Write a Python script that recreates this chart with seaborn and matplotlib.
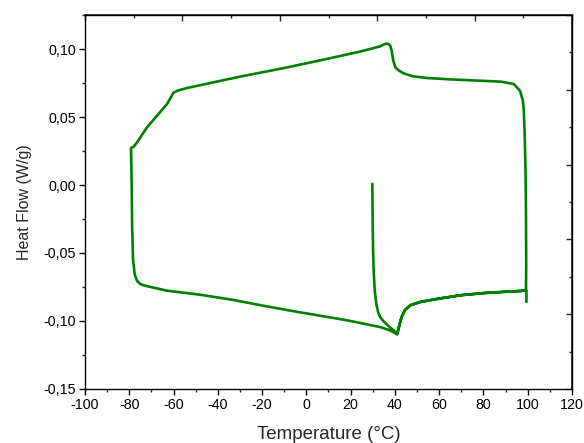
import numpy as np
import pandas as pd
import matplotlib
matplotlib.use("Agg")
import matplotlib.pyplot as plt
from matplotlib.ticker import MultipleLocator, FuncFormatter
import seaborn as sns

# DSC thermogram: heat -> isotherm at 100 °C -> cool -> isotherm at -80 °C -> heat
temperature = [
    29.8, 29.9, 30.1, 30.4, 30.9, 31.6, 32.5, 33.4, 35.0, 37.0, 39.5, 41.0,
    41.8, 42.5, 43.2, 44.5, 46.9, 51.5, 60.0, 70.0, 80.0, 90.0, 99.2,
    99.3, 99.2, 99.0, 98.6, 98.2, 97.8, 96.5, 93.7, 88.0, 78.6, 65.0, 54.5,
    48.0, 44.0, 41.5, 40.2, 39.2, 38.5, 37.9, 37.0, 36.0, 34.5, 33.4, 24.4,
    10.0, 0.0, -11.7, -30.0, -54.0, -58.0, -60.0, -62.9, -72.0, -76.5,
    -78.0, -78.8, -79.2, -78.9, -78.7, -78.3, -77.5, -76.5, -75.0, -73.5,
    -63.0, -47.9, -32.8, -17.8, -2.7, 0.3, 18.4, 33.4, 38.0, 41.0,
    41.8, 42.5, 43.2, 44.5, 46.9, 51.5, 60.0, 70.0, 80.0, 90.0, 99.2,
    99.4, 99.4,
]
heat_flow = [
    0.001, -0.020, -0.045, -0.063, -0.078, -0.0875, -0.094, -0.0973, -0.1005,
    -0.1035, -0.1070, -0.1096,
    -0.105, -0.100, -0.0965, -0.092, -0.0885, -0.0860, -0.0835, -0.0810,
    -0.0795, -0.0785, -0.0777,
    -0.060, -0.020, 0.010, 0.0375, 0.055, 0.062, 0.0693, 0.0743, 0.0760,
    0.0767, 0.0777, 0.0787,
    0.0800, 0.0821, 0.0845, 0.0865, 0.092, 0.099, 0.1024, 0.1038, 0.1040,
    0.1030, 0.1020, 0.0982,
    0.0930, 0.0895, 0.0855, 0.0797, 0.0713, 0.0695, 0.0680, 0.0596, 0.0424,
    0.0313,
    0.0282, 0.0277, 0.0270, 0.0000, -0.030, -0.055, -0.066, -0.0705, -0.0728,
    -0.0738,
    -0.0777, -0.0807, -0.0846, -0.0893, -0.0937, -0.0945, -0.0995, -0.1045,
    -0.1070, -0.1098,
    -0.104, -0.100, -0.0965, -0.092, -0.0885, -0.0860, -0.0835, -0.0810,
    -0.0795, -0.0785, -0.0777,
    -0.0777, -0.086,
]

x_ticks = [-100, -80, -60, -40, -20, 0, 20, 40, 60, 80, 100, 120]
y_ticks = [-0.15, -0.10, -0.05, 0.00, 0.05, 0.10]

df = pd.DataFrame({"Temperature": temperature, "HeatFlow": heat_flow})

sns.set_theme(style="ticks")
plt.rcParams["font.family"] = ["Liberation Sans", "DejaVu Sans"]
plt.rcParams["axes.unicode_minus"] = False

fig = plt.figure(figsize=(5.84, 4.43), dpi=100)
ax = fig.add_axes([0.1455, 0.122, 0.834, 0.844])

sns.lineplot(data=df, x="Temperature", y="HeatFlow", sort=False, estimator=None,
             color="#008000", linewidth=1.9, ax=ax)

xmin, xmax = -100, 120
ymin, ymax = -0.15, 0.125
ax.set_xlim(xmin, xmax)
ax.set_ylim(ymin, ymax)
ax.set_xticks(x_ticks)
ax.set_yticks(y_ticks)
ax.xaxis.set_minor_locator(MultipleLocator(10))
ax.yaxis.set_minor_locator(MultipleLocator(0.025))
ax.yaxis.set_major_formatter(FuncFormatter(lambda v, p: f"{v:.2f}".replace(".", ",")))
ax.xaxis.set_major_formatter(FuncFormatter(lambda v, p: f"{v:.0f}"))

for s in ax.spines.values():
    s.set_linewidth(1.0)
    s.set_color("black")

ax.tick_params(which="major", direction="out", length=4.5, width=1.0,
               labelsize=10.3, colors="black", pad=2)
ax.tick_params(which="minor", direction="out", length=2.5, width=1.0)

ax.set_xlabel("Temperature (°C)", fontsize=13.5, labelpad=10)
ax.set_ylabel("Heat Flow (W/g)", fontsize=11.5, labelpad=8)

# Unlabelled opposite axes divided into ten equal parts
top = ax.secondary_xaxis("top", functions=(lambda x: (x - xmin) / (xmax - xmin),
                                            lambda f: xmin + f * (xmax - xmin)))
top.set_xticks(np.arange(0, 1.01, 0.2))
top.xaxis.set_minor_locator(MultipleLocator(0.1))
top.tick_params(which="major", direction="in", length=4.5, width=1.0, labeltop=False)
top.tick_params(which="minor", direction="in", length=2.5, width=1.0)

right = ax.secondary_yaxis("right", functions=(lambda y: (y - ymin) / (ymax - ymin),
                                                lambda f: ymin + f * (ymax - ymin)))
right.set_yticks(np.arange(0, 1.01, 0.2))
right.yaxis.set_minor_locator(MultipleLocator(0.1))
right.tick_params(which="major", direction="in", length=4.5, width=1.0, labelright=False)
right.tick_params(which="minor", direction="in", length=2.5, width=1.0)

fig.savefig("out.png", dpi=100)
